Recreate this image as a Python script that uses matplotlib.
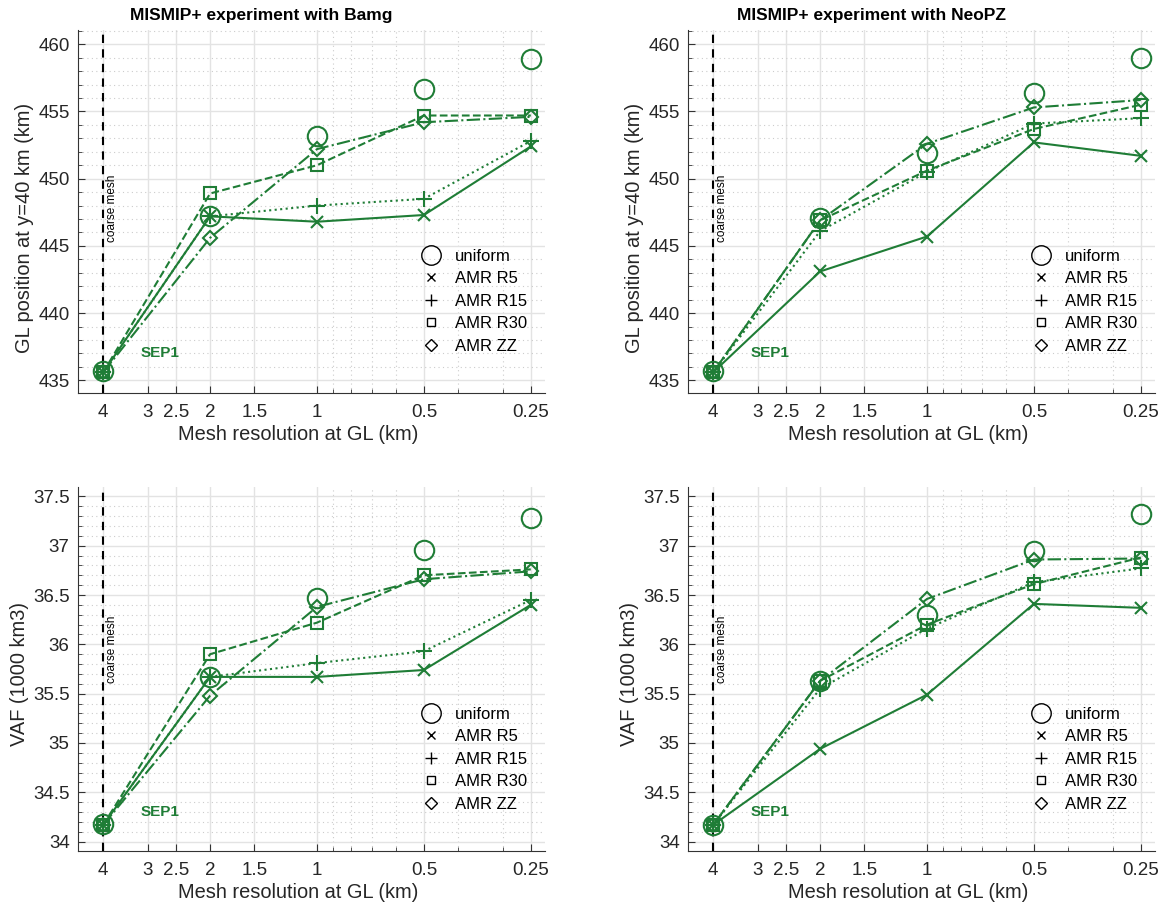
import numpy as np
import matplotlib
matplotlib.use("Agg")
import matplotlib.pyplot as plt
from matplotlib.ticker import FixedLocator, FixedFormatter, NullFormatter

plt.rcParams['font.family'] = ['Liberation Sans', 'DejaVu Sans']

# mesh resolution at GL (km)
res = [4, 2, 1, 0.5, 0.25]
xticks = [4, 3, 2.5, 2, 1.5, 1, 0.5, 0.25]
xticklabels = ['4', '3', '2.5', '2', '1.5', '1', '0.5', '0.25']
xminor = [0.9, 0.8, 0.7, 0.6, 0.4, 0.3]

# GL position at y=40 km (km), Bamg
gl_bamg_uniform = [435.7, 447.2, 453.2, 456.7, 458.9]
gl_bamg_r5 = [435.6, 447.2, 446.8, 447.3, 452.4]
gl_bamg_r15 = [435.6, 447.2, 448.0, 448.5, 452.8]
gl_bamg_r30 = [435.6, 448.9, 451.0, 454.7, 454.7]
gl_bamg_zz = [435.6, 445.6, 452.2, 454.2, 454.6]

# GL position, NeoPZ
gl_neopz_uniform = [435.7, 447.1, 451.9, 456.4, 459.0]
gl_neopz_r5 = [435.6, 443.1, 445.7, 452.7, 451.7]
gl_neopz_r15 = [435.6, 446.1, 450.5, 454.1, 454.5]
gl_neopz_r30 = [435.6, 446.9, 450.6, 453.7, 455.5]
gl_neopz_zz = [435.6, 446.9, 452.6, 455.3, 455.85]

# VAF (1000 km3), Bamg
vaf_bamg_uniform = [34.18, 35.67, 36.47, 36.96, 37.28]
vaf_bamg_r5 = [34.17, 35.67, 35.67, 35.74, 36.40]
vaf_bamg_r15 = [34.17, 35.67, 35.81, 35.93, 36.45]
vaf_bamg_r30 = [34.17, 35.90, 36.22, 36.70, 36.76]
vaf_bamg_zz = [34.17, 35.48, 36.38, 36.66, 36.74]

# VAF, NeoPZ
vaf_neopz_uniform = [34.17, 35.63, 36.30, 36.95, 37.32]
vaf_neopz_r5 = [34.17, 34.94, 35.49, 36.41, 36.37]
vaf_neopz_r15 = [34.17, 35.55, 36.16, 36.63, 36.77]
vaf_neopz_r30 = [34.17, 35.63, 36.20, 36.61, 36.88]
vaf_neopz_zz = [34.17, 35.63, 36.46, 36.86, 36.87]

labels = ['uniform', 'AMR R5', 'AMR R15', 'AMR R30', 'AMR ZZ']
green = '#1f7d36'

styles = [
    dict(marker='o', ms=14, ls='none'),
    dict(marker='x', ms=8, ls='-'),
    dict(marker='+', ms=11, ls=':'),
    dict(marker='s', ms=8, ls='--'),
    dict(marker='D', ms=7.5, ls='-.'),
]


def make_panel(ax, series, ylim, yticks, yminor, ylabel, title, coarse_y, sep_y, ylab_y):
    for vals, st in zip(series, styles):
        ax.plot(res, vals, color=green, lw=1.5, mfc='none', mew=1.5,
                marker=st['marker'], ms=st['ms'], ls=st['ls'])
    ax.axvline(4, color='black', ls=(0, (4, 3)), lw=1.5, zorder=1)
    ax.text(3.77, coarse_y, 'coarse mesh', rotation=90, fontsize=8.5,
            va='center', ha='center', color='black')
    ax.text(3.14, sep_y, 'SEP1', color=green, fontsize=11, fontweight='bold',
            va='center', ha='left')
    ax.set_xscale('log')
    ax.set_xlim(4.71, 0.228)
    ax.xaxis.set_major_locator(FixedLocator(xticks))
    ax.xaxis.set_major_formatter(FixedFormatter(xticklabels))
    ax.xaxis.set_minor_locator(FixedLocator(xminor))
    ax.xaxis.set_minor_formatter(NullFormatter())
    ax.set_ylim(*ylim)
    ax.set_yticks(yticks)
    ax.set_yticklabels([('%g' % v) for v in yticks])
    ax.yaxis.set_minor_locator(FixedLocator(yminor))
    ax.grid(True, which='major', color='#e3e3e3', lw=1.0, zorder=0)
    ax.grid(True, which='minor', color='#cccccc', lw=0.8, ls=(0, (1, 3)), zorder=0)
    ax.set_axisbelow(True)
    for s in ['top', 'right']:
        ax.spines[s].set_visible(False)
    for s in ['left', 'bottom']:
        ax.spines[s].set_color('#333333')
    ax.tick_params(which='both', direction='in', colors='#333333',
                   labelsize=13.5, labelcolor='#262626')
    ax.tick_params(axis='x', which='major', pad=8)
    ax.tick_params(axis='y', which='major', pad=6)
    ax.tick_params(which='major', length=5)
    ax.tick_params(which='minor', length=3)
    ax.set_xlabel('Mesh resolution at GL (km)', fontsize=14.4, color='#262626', labelpad=3)
    ax.set_ylabel(ylabel, fontsize=14.4, color='#262626', labelpad=3)
    ax.xaxis.label.set_x(0.471)
    ax.yaxis.label.set_y(ylab_y)
    if title:
        ax.set_title(title, fontsize=12.5, fontweight='bold', pad=7, x=0.392)

    handles = []
    for lab, st in zip(labels, styles):
        h, = ax.plot([], [], color='black', mfc='none', mew=1.0, ls='none',
                     marker=st['marker'], ms=st['ms'] * 0.75 if st['marker'] != 'o' else 14)
        handles.append(h)
    ax.legend(handles, labels, loc='lower right', bbox_to_anchor=(1.0, 0.058),
              frameon=False, fontsize=12, handletextpad=0.7, labelspacing=0.45,
              handlelength=1.4, borderaxespad=0.7)


fig = plt.figure(figsize=(11.62, 9.06), dpi=100)
W, H = 1162.0, 906.0
ax1 = fig.add_axes([78 / W, 1 - 393 / H, 467 / W, 363 / H])
ax2 = fig.add_axes([688 / W, 1 - 393 / H, 467 / W, 363 / H])
ax3 = fig.add_axes([78 / W, 1 - 851 / H, 467 / W, 364 / H])
ax4 = fig.add_axes([688 / W, 1 - 851 / H, 467 / W, 364 / H])

gl_ticks = [435, 440, 445, 450, 455, 460]
gl_minor = list(range(434, 462))
vaf_ticks = [34, 34.5, 35, 35.5, 36, 36.5, 37, 37.5]
vaf_minor = [round(33.9 + 0.1 * i, 1) for i in range(38)]

make_panel(ax1, [gl_bamg_uniform, gl_bamg_r5, gl_bamg_r15, gl_bamg_r30, gl_bamg_zz],
           (434.06, 461.06), gl_ticks, gl_minor, 'GL position at y=40 km (km)',
           'MISMIP+ experiment with Bamg', 447.8, 437.0, 0.455)
make_panel(ax2, [gl_neopz_uniform, gl_neopz_r5, gl_neopz_r15, gl_neopz_r30, gl_neopz_zz],
           (434.06, 461.06), gl_ticks, gl_minor, 'GL position at y=40 km (km)',
           'MISMIP+ experiment with NeoPZ', 447.8, 437.0, 0.455)
make_panel(ax3, [vaf_bamg_uniform, vaf_bamg_r5, vaf_bamg_r15, vaf_bamg_r30, vaf_bamg_zz],
           (33.905, 37.595), vaf_ticks, vaf_minor, 'VAF (1000 km3)', None, 35.95, 34.30, 0.485)
make_panel(ax4, [vaf_neopz_uniform, vaf_neopz_r5, vaf_neopz_r15, vaf_neopz_r30, vaf_neopz_zz],
           (33.905, 37.595), vaf_ticks, vaf_minor, 'VAF (1000 km3)', None, 35.95, 34.30, 0.485)

fig.savefig('out.png', dpi=100)
